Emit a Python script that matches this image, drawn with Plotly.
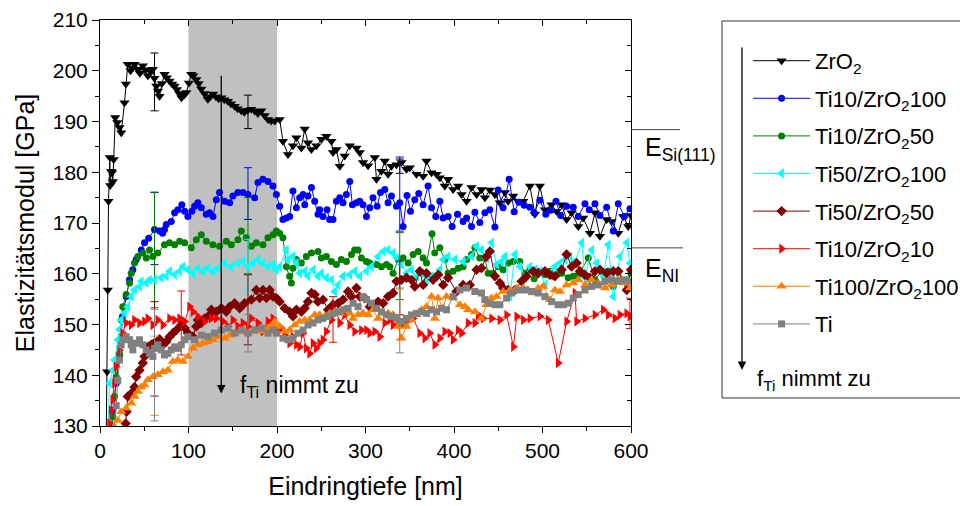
import plotly.graph_objects as go

FONT = "Liberation Sans, Arial, sans-serif"

# ---------------- data: (Eindringtiefe [nm], Elastizitätsmodul [GPa]) ----------------
ZRO2 = [(7,128),(8.1,140.7),(8.8,156.8),(9.6,174.3),(11.1,182.9),(11.5,177.4),(12.7,180.2),(13.5,179.9),(14.5,178.2),(15.5,182.5),
        (17.2,190.8),(19.5,189.8),(22,188.8),(24,187.8),(27.7,193.7),(29.2,197.4),(31.4,201.3),(34.5,200),(37,200.6),(39,201.3),
        (42.8,200.3),(45,199.5),(48.4,201),(51,200.2),(54.1,199),(57,199.8),(59.7,200.3),(61.5,198.5),(63.6,197),(65.5,196),
        (67.3,195),(70,197.5),(72.9,199.3),(75.5,198.6),(78.6,198),(81.5,197.4),(84.3,197),(87,196.3),(89.5,195.5),(92.1,194.7),
        (95,195.2),(97.5,195.7),(100.5,197.6),(103.1,199.3),(105.5,199),(108.8,198.3),(111.5,197.5),(114.5,196.4),(118,195.5),
        (121.9,194.4),(124.5,194.9),(127.6,195.4),(131,194.9),(134,194.5),(137.1,194.7),(140.5,194.3),(144.5,194),(148,193.5),
        (152.1,193),(155.5,192.5),(159.7,192.1),(163,191.8),(167,192.2),(171,192.4),(175,192),(178.5,191.6),(182.3,192.1),
        (186,191.2),(189.8,190.4),(193.5,190.1),(197.4,190.1),(203,190.4),(206.7,186.1),(212.4,183.5),(218,185.2),(221.9,186.8),
        (227.5,184.8),(231.3,188.5),(235,185.8),(238.9,184.5),(244.5,185.2),(250.2,186.5),(255.8,187.1),(261.5,186.1),(263.3,183.9),
        (267.1,184.5),(270.9,181.2),(276.5,183.2),(282.2,185.2),(289.8,184.8),(293.5,183.9),(297.2,181.9),(302.9,181.3),(310.5,182.9),
        (312.4,178.6),(318,180.2),(321.8,182.2),(325.5,179.6),(329.3,181.2),(335,181.5),(340.6,181.9),(346.3,180.6),(350,180.9),
        (357.6,179.6),(365.1,179.2),(368.9,182.2),(374.6,179.9),(380.2,179.6),(384,178.9),(389.6,177.3),(393.3,178.6),(399,176.6),
        (404.7,177.3),(408.5,175.6),(414.2,174.3),(419.8,177),(425.5,175.6),(431.1,176.6),(434.9,175),(440.5,176.5),(446.2,175.6),
        (451.8,174),(457.5,176),(461.2,174.3),(466.9,175.3),(472.5,174.3),(478.2,174.3),(485.8,177.3),(491.4,171.7),(497,177.3),
        (502.7,172.6),(510.3,173.6),(515.9,172.3),(521.6,173.6),(527.2,170.7),(532.9,172),(540.4,169.3),(546,171),(553.6,168),
        (559.3,172),(564.9,167.4),(572.5,170.7),(578.1,170.3),(585.6,168),(591.3,171.3),(596.9,169.3),(600,171.5)]

TI10_ZRO2_100 = [(12,128),(14.5,133.1),(18.3,138.4),(22,143.7),(24,147.6),(25.4,151.6),(29.6,155.5),(33.4,158.8),(37.1,160.8),(40.9,162.8),
        (46.6,164.7),(50.3,166.1),(55,167),(61.6,168.7),(67.3,168.4),(70.7,168),(72.9,168.7),(74.9,169.7),(80.5,170.3),(84.3,172),
        (88,172.6),(92.5,173.6),(95.6,172.3),(99.3,171.3),(103.8,172.3),(106.9,173.3),(110.6,174),(114.5,173),(120.1,171.7),
        (123.8,172),(127.6,171.3),(131.4,174.6),(135.1,176),(140.8,174.3),(146.5,174),(150.2,175.3),(155.8,176),(161.5,176),
        (167.2,175.6),(174.7,175),(178.5,178),(184.1,178.6),(189.8,178.2),(195.4,177.3),(199.3,175.6),(203,173.3),(206.7,170.7),
        (210.6,171),(214.3,171.3),(218,176.3),(221.9,173),(225.6,175),(229.4,175.6),(231.3,173.6),(235,175.3),(238.9,177),
        (242.6,174.3),(246.3,171.7),(248.2,172.6),(252,171.3),(256.5,172.6),(259.5,170.7),(263.3,170.7),(267.1,174.3),(270.9,175),
        (274.6,174),(278.4,175.6),(282.2,178.2),(285.2,173.6),(289.8,174),(293.5,174.3),(297.2,173.6),(301.1,171.3),(304.8,173),
        (308.5,175),(313.1,173.3),(316.9,176),(321.8,176.6),(325.5,174),(329.3,175.3),(335,173.3),(338.7,174),(342.5,169.3),
        (346.9,175.4),(350.8,172.3),(355.7,174.6),(360.2,175.8),(365.1,173.6),(370.7,177.3),(374.6,173),(379.4,171.3),(384,174.3),
        (387.7,171),(393.3,171.3),(397.9,169.3),(404,171.7),(410.3,170.3),(414.2,171),(419.8,169.3),(423.6,172.1),(429.2,170.1),
        (434.9,172),(440.5,172.6),(446.2,169.2),(449.9,176.5),(455.5,173),(462.3,178.6),(468,172.2),(473.3,174.1),(479.3,173.5),
        (485.8,173.1),(490.6,172),(497,174.5),(503.8,171.7),(509.5,172.5),(515.2,174.3),(520.5,171.5),(527.2,173.3),(534.7,173.1),
        (540.4,171.3),(548,173.8),(552.8,172.6),(559.3,173.8),(564.9,171.5),(572.5,173.1),(580,168.4),(585.6,173.8),(592.4,171.3),
        (598.8,172.8)]

TI10_ZRO2_50 = [(12.7,128),(14.5,131.8),(16.4,135.8),(18.3,139.7),(22,144.3),(24,150.9),(25.7,153.5),(29.6,155.9),(33.4,158.2),
        (35.3,160.1),(39,162.1),(42.8,163.4),(48.4,164.1),(52.3,163.1),(56,164.7),(59.7,163.4),(65.3,164.1),(72.9,165.7),(78.6,166.1),
        (84.3,165.7),(90,166.4),(95.6,166.1),(103.1,165.1),(108.8,166.7),(114.5,167.7),(120.1,166.4),(127.6,165.7),(135.1,165.4),
        (142.7,166.4),(148.4,165.7),(155.8,166.7),(159.7,168.4),(165.3,167.1),(171,165.4),(176.6,166.1),(184.1,165.7),(189.8,167.1),
        (195.4,167.7),(199.3,168.4),(203,168),(206.7,167.1),(210.6,161.4),(214.3,159.5),(216.2,158.2),(218,161.1),(221.9,162.8),
        (227.5,162.1),(233.1,163.4),(238.9,164.1),(246.3,164.4),(250.2,163.1),(255.8,163.4),(261.5,162.4),(267.1,161.8),(272.7,162.8),
        (278.4,162.4),(284.1,163.8),(287.8,164.7),(291.6,164.7),(295.4,163.1),(301.1,162.4),(304.8,162.1),(312.4,161.8),(318,161.4),
        (323.7,161.8),(327.5,161.4),(331.2,160.1),(336.9,162.8),(342.5,163.1),(348.2,162.1),(353.8,163.8),(359.5,164.4),(365.1,163.1),
        (368.9,162.1),(375.2,167.9),(378.2,164.1),(384,165.1),(389.6,162.8),(393.3,160.1),(399,160.5),(404.7,161.1),(410.3,161.4),
        (414.2,162.8),(419.8,163.8),(423.6,165.1),(429.2,163.1),(434.9,163.1),(438.6,160.1),(444.3,160.1),(449.9,161.4),(455.5,160.8),
        (461.2,162.1),(466.9,162.4),(474.4,162.4),(480.1,160.1),(485.8,160.8),(490.6,159),(495.2,160.5),(502.7,159.8),(508.4,160.5),
        (512.1,159.5),(517.8,160.1),(521.6,160.1),(529,159.2),(534.7,159.5),(540.4,159.8),(551.7,163.1),(559.3,158.8),(566.8,160.5),
        (574.3,160.5),(580,157.5),(585.6,160.5),(593.2,158.5),(600,160.1)]

TI50_ZRO2_100 = [(9,128),(10.7,138.4),(14.5,141),(16.4,143),(20.1,147),(22,149),(24,150.9),(27.7,152.2),(31.4,153.5),(35.3,155.5),
        (39,156.8),(44.7,157.5),(46.6,158.5),(52.3,158.2),(56,158.8),(61.6,158.8),(69.2,159.2),(74.9,159.5),(78.6,160.5),(84.3,159.8),
        (90,160.5),(93.7,161.4),(99.3,160.8),(105,160.1),(110.6,161.1),(116.3,160.5),(121.9,161.1),(127.6,160.5),(133.3,161.1),
        (140.8,162.1),(148.4,161.4),(155.8,162.1),(161.5,162.4),(167.2,161.4),(172.9,162.1),(178.5,162.8),(184.1,162.1),(189.8,161.4),
        (195.4,161.8),(199.3,160.8),(203,161.4),(210.6,164.7),(212.4,162.8),(218,163.4),(221.9,162.1),(225.6,160.1),(231.3,160.5),
        (235,159.5),(240.7,160.8),(246.3,159.5),(250.2,160.1),(255.8,159.2),(261.5,158.8),(265.2,156.5),(269,157.8),(274.6,159.5),
        (282.2,159.8),(287.8,160.5),(293.5,159.5),(301.1,160.5),(306.7,161.4),(314.2,163.4),(319.9,164.4),(325.5,164.7),(331.2,164.1),
        (335,163.1),(340.6,161.8),(346.3,160.1),(351.9,160.8),(357.6,159.5),(363.3,160.1),(368.9,158.8),(374.6,159.5),(380.2,159.5),
        (384,160.8),(387.7,162.8),(393.3,163.4),(401,162.8),(410.3,162.4),(419.8,163.4),(425.5,165.4),(431.1,164.7),(436.8,163.1),
        (442.5,166.1),(448.1,161.8),(453.8,162.4),(457.5,163.4),(463.2,155.5),(468.8,163.8),(474.4,161.4),(480.1,159.5),(485.8,161.4),
        (491.4,160.8),(497,160.5),(502.7,157.8),(508.4,160.1),(514,161.4),(519.7,162.1),(525.4,162.8),(531,163.4),(536.7,162.4),
        (544.3,166.1),(548,159.2),(555.6,164.7),(561.3,162.1),(568.8,159.5),(574.4,165.7),(580,155.5),(587.6,163.4),(595.2,166.1),
        (598.8,162.1)]

TI50_ZRO2_50 = [(22,126),(26,129),(29,130.5),(30,132.8),(31.4,135.8),(35.3,136.4),(39,137.7),(40.9,139.7),(44.7,141),(48.4,142.4),
        (50.3,143.7),(54.1,145.6),(57.9,146),(61.6,146.4),(67.3,147.1),(71.1,146),(74.9,146.6),(78.6,147.6),(82.4,148.3),(86.2,148.9),
        (91.8,149.9),(95.6,149.3),(99.3,148.3),(105,147.6),(108.8,149.6),(110.6,150.9),(114.5,150.3),(118.2,151.2),(123.8,151.9),
        (125.8,152.9),(131.4,152.5),(137.1,153.2),(142.7,152.5),(146.5,153.5),(152.1,154.2),(157.8,153.2),(163.4,154.2),(171,154.9),
        (176.6,156.8),(180.4,155.2),(184.1,156.8),(188,155.2),(191.7,156.8),(195.4,155.5),(199.3,155.2),(203,154.5),(208.7,153.2),
        (214.3,152.5),(218,151.6),(221.9,152.9),(227.5,152.5),(231.3,153.2),(235,154.5),(238.9,156.2),(242.6,155.9),(246.3,154.5),
        (252,154.9),(257.7,152.9),(263.3,153.9),(269,154.2),(274.6,154.9),(280.3,156.5),(284.1,155.5),(289.8,157.2),(293.5,155.5),
        (299.1,155.2),(304.8,153.5),(308.5,153.9),(314.2,154.5),(319.9,154.2),(325.5,155.5),(331.2,156.2),(335,158.5),(340.6,158.8),
        (346.3,159.2),(351.9,158.8),(355.7,157.5),(361.3,160.5),(365.1,157.8),(368.9,160.1),(376.4,158.8),(382.1,159.8),(387.7,157.8),
        (393.3,159.2),(402.8,156.5),(410.3,157.8),(417.9,157.8),(425.5,160.8),(431.1,161.1),(436.8,163.4),(440.5,164.4),(446.2,159.5),
        (451.8,158.2),(455.5,157.2),(461.2,156.8),(468.8,156.8),(476.4,158.5),(482,159.5),(489.6,160.5),(495.2,160.1),(502.7,160.5),
        (508.4,159.8),(514,159.5),(521.6,160.8),(527.2,163.8),(532.9,161.4),(538.6,162.1),(542.3,160.5),(548,159.8),(553.6,159.2),
        (559.3,160.5),(564.9,160.8),(572.5,160.1),(580,160.5),(585.6,160.5),(595.2,156.8),(600,160.8)]

TI10_ZRO2_10 = [(9,128),(10.7,130.5),(12.7,133.1),(14.5,135.1),(16.4,138.4),(18.3,141.7),(22,145),(25.7,148.3),(29.6,150.3),(35.3,149.9),
        (39,150.9),(44.7,150.3),(50.3,150.6),(54.1,151.2),(59.7,149.9),(65.3,150.9),(71.1,149.9),(78.6,151.2),(84.3,150.9),(90,151.2),
        (95.6,150.6),(101.2,153.5),(105,152.5),(110.6,151.6),(118.2,150.6),(125.8,151.2),(131.4,151.2),(138.9,150.6),(144.5,149.6),
        (150.2,150.9),(155.8,149.6),(161.5,150.3),(167.2,149.6),(171,151.2),(178.5,150.3),(184.1,148.6),(189.8,150.6),(195.4,151.2),
        (199.3,148.9),(204.9,149.3),(208.7,147.9),(214.3,146.3),(218,147.6),(221.9,146),(225.6,145.6),(229.4,148.3),(233.1,145.3),
        (236.9,144.3),(240.7,146.3),(244.4,145.3),(248.2,146.3),(252,147),(255.7,148.6),(261.5,150.9),(267.1,152.5),(270.9,150.3),
        (276.5,151.9),(282.2,149.9),(287.8,148.6),(295.4,148.9),(301.1,148.9),(304.8,148.3),(310.5,148.6),(316.1,147.6),(321.8,150.3),
        (327.5,150.9),(331.2,149.9),(336.9,150.6),(342.5,150.3),(348.2,150.9),(353.8,151.2),(361.3,148.3),(367,147.3),(372.6,148.3),
        (378.3,146),(384,147.3),(389.6,148.6),(395.3,148.3),(399,147),(404.7,148.9),(408.5,148.3),(416,150.3),(423.6,150.3),
        (427.4,151.9),(433,151.2),(442.5,151.2),(451.9,150.9),(459.5,151.9),(467.1,145.6),(470.9,151.6),(478.4,150.9),(485.8,151.2),
        (497.1,151.6),(506.5,150.9),(517.8,142.4),(527.3,150.6),(536.7,156.2),(538.6,150.6),(548,151.2),(559.3,151.9),(568.7,152.9),
        (574.4,151.9),(581.9,151.2),(587.6,151.9),(595.1,152.2),(598.8,151.6)]

TI100_ZRO2_100 = [(14,128),(16.4,129.8),(20.1,131.1),(24,132.8),(29.6,133.5),(35.3,134.5),(39,135.8),(42.8,136.8),(46.6,137.7),
        (50.3,138.1),(54.1,139.1),(59.7,139.7),(65.3,140.1),(71.1,140.7),(76.7,141),(82.4,142.7),(88,143),(93.7,142.7),(99.3,143.7),
        (105,145.3),(110.6,146),(116.3,146.3),(121.9,146.6),(127.6,147),(133.3,147.6),(140.8,147.3),(146.5,147.9),(152.1,148.3),
        (159.7,148.6),(167.2,148.3),(174.7,148.9),(182.3,148.6),(189.8,149.3),(195.4,149.9),(197.4,150.6),(203,149.6),(208.7,148.6),
        (214.3,148.9),(220,149.9),(225.6,150.6),(231.3,150.9),(236.9,150.9),(242.6,151.9),(248.2,151.9),(253.9,151.6),(259.5,152.2),
        (265.2,152.5),(270.9,152.2),(276.5,152.9),(282.2,152.2),(285.9,151.2),(291.6,151.9),(297.2,152.2),(302.9,151.9),(308.5,152.9),
        (314.2,151.2),(319.9,152.2),(325.5,152.2),(331.2,151.9),(336.8,149.6),(340.6,147.3),(346.3,149.6),(352,150.9),(357.6,151.9),
        (363.3,152.9),(368.9,153.5),(374.6,155.5),(378.3,151.2),(382,155.2),(387.7,153.2),(391.5,155.5),(399,155.2),(406.6,153.9),
        (412.2,153.5),(416,152.9),(423.6,152.5),(431.1,151.2),(436.8,153.9),(442.4,155.2),(448.1,155.5),(455.5,156.5),(463.1,156.8),
        (470.7,157.2),(478.2,157.2),(483.8,156.8),(489.5,156.2),(495.1,157.2),(500.8,157.5),(508.4,154.9),(514,156.8),(519.7,156.5),
        (527.2,157.8),(534.7,158.2),(540.4,158.8),(548,157.8),(555.5,158.8),(563,158.2),(570.6,157.2),(578.1,157.8),(585.6,158.8),
        (593.2,158.2),(598.8,157.2)]

TI = [(15,128),(18.3,134),(20.1,139),(22,143),(24,146),(25.7,147),(29.6,147.6),(33.4,147),(35.3,146),(37.1,145),(40.9,146.3),
        (44.7,147),(48.4,146),(52.3,145),(56,144.3),(59.7,143.7),(61.6,145.3),(65.3,146),(69.2,145),(72.9,144),(76.7,144.3),(80.5,145),
        (84.3,145.6),(88,145.3),(91.8,146),(95.6,147),(99.3,147.6),(106.9,147),(114.5,147.9),(121.9,147.6),(129.5,148.3),(137.1,148.9),
        (144.5,149.3),(152.1,148.3),(159.7,148.9),(167.2,148.3),(174.7,148.9),(182.3,149.3),(189.8,148.3),(195.4,148.9),(199.3,148.3),
        (206.7,147.3),(212.4,147),(218,147.3),(223.7,148.3),(229.4,148.9),(235,149.9),(240.7,150.3),(246.3,150.9),(252,151.2),
        (257.7,151.6),(263.3,152.2),(269,152.5),(274.6,152.9),(280.3,153.2),(285.9,154.2),(291.6,153.5),(297.2,155.5),(301.1,154.9),
        (306.7,154.2),(312.4,153.2),(318,152.5),(323.7,151.9),(329.3,151.6),(335,151.2),(340.6,150.6),(346.3,151.2),(352,151.9),
        (357.6,152.2),(363.3,152.5),(368.9,152.2),(374.6,152.9),(380.2,152.5),(385.9,153.2),(391.5,152.9),(399,155.5),(406.6,156.8),
        (414.1,157.2),(423.6,156.5),(431.1,156.2),(434.9,154.9),(440.5,154.2),(446.2,153.9),(451.8,153.9),(459.4,155.2),(465,156.2),
        (472.6,156.8),(480.1,156.8),(487.7,156.5),(495.2,156.2),(502.7,155.5),(510.3,154.5),(517.8,153.9),(523.5,153.9),(529.1,154.2),
        (534.7,155.2),(540.4,155.9),(548,156.8),(555.5,157.5),(563,157.8),(570.6,158.5),(578.1,158.8),(585.6,158.5),(593.2,158.8),
        (598.8,158.5)]

# error bars: (depth, mean, +/- error)
ERR_ZRO2 = [(61.6,197.8,5.7),(167.2,191.9,3.3),(338.7,181.2,1.4)]
ERR_TI10_ZRO2_100 = [(61.6,168.9,7.1),(167.2,175.8,5.1),(338.7,175.7,7.3)]
ERR_TI10_ZRO2_50 = [(61.6,164.7,11.4),(167.2,167.5,7.5),(338.7,161.5,6.6)]
ERR_TI50_ZRO2_100 = [(167.2,161.8,5.0)]
ERR_TI50_ZRO2_50 = [(61.6,145.2,9.3),(167.2,152.9,6.9),(338.7,157.2,5.3)]
ERR_TI10_ZRO2_10 = [(91.8,150.3,6.3),(263.3,151.0,4.5),(598.8,152.2,3.0)]
ERR_TI100_ZRO2_100 = [(61.6,139.9,7.8),(338.7,152.0,5.0)]
ERR_TI = [(61.6,142.0,11.0),(167.2,148.3,3.7),(338.7,150.8,6.4)]

E_SI111 = 188.4
E_NI = 165.1

SERIES = [
    ("ZrO<sub>2</sub>", ZRO2, ERR_ZRO2, "#000000", "triangle-down", 9),
    ("Ti10/ZrO<sub>2</sub>100", TI10_ZRO2_100, ERR_TI10_ZRO2_100, "#0000ff", "circle", 7),
    ("Ti10/ZrO<sub>2</sub>50", TI10_ZRO2_50, ERR_TI10_ZRO2_50, "#008000", "circle", 7),
    ("Ti50/ZrO<sub>2</sub>100", TI50_ZRO2_100, ERR_TI50_ZRO2_100, "#00ffff", "triangle-left", 9),
    ("Ti50/ZrO<sub>2</sub>50", TI50_ZRO2_50, ERR_TI50_ZRO2_50, "#800000", "diamond", 8),
    ("Ti10/ZrO<sub>2</sub>10", TI10_ZRO2_10, ERR_TI10_ZRO2_10, "#ff0000", "triangle-right", 9),
    ("Ti100/ZrO<sub>2</sub>100", TI100_ZRO2_100, ERR_TI100_ZRO2_100, "#ff8000", "triangle-up", 9),
    ("Ti", TI, ERR_TI, "#808080", "square", 7),
]

fig = go.Figure()
for i, (name, data, err, color, symbol, size) in enumerate(SERIES):
    fig.add_trace(go.Scatter(
        x=[p[0] for p in data], y=[p[1] for p in data],
        mode="lines+markers", name=name, legendgroup=f"g{i}",
        line=dict(color=color, width=1),
        marker=dict(symbol=symbol, size=size, color=color, line=dict(width=0)),
    ))
    fig.add_trace(go.Scatter(
        x=[e[0] for e in err], y=[e[1] for e in err],
        mode="markers", showlegend=False, legendgroup=f"g{i}", hoverinfo="skip",
        marker=dict(size=1, color=color, opacity=0),
        error_y=dict(type="data", array=[e[2] for e in err], color=color, thickness=1, width=4),
    ))

# mirror axes (inward ticks on top and right)
fig.add_trace(go.Scatter(x=[None], y=[None], xaxis="x2", yaxis="y2", showlegend=False, hoverinfo="skip"))

axis_common = dict(showline=True, linecolor="black", linewidth=1, showgrid=False, zeroline=False,
                   tickcolor="black", tickwidth=1, mirror=False)

fig.update_layout(
    width=960, height=506,
    margin=dict(l=100, r=329, t=20, b=80, autoexpand=False),
    paper_bgcolor="white", plot_bgcolor="white",
    font=dict(family=FONT, color="black"),
    xaxis=dict(range=[0, 600], dtick=100, ticks="outside", ticklen=6,
               minor=dict(ticks="outside", dtick=50, ticklen=4, tickcolor="black"),
               tickfont=dict(size=21), title=dict(text="Eindringtiefe [nm]", font=dict(size=25), standoff=16),
               **axis_common),
    yaxis=dict(range=[130, 210], dtick=10, ticks="outside", ticklen=7,
               minor=dict(ticks="outside", dtick=5, ticklen=4, tickcolor="black"),
               tickfont=dict(size=21), title=dict(text="Elastizitätsmodul [GPa]", font=dict(size=25), standoff=11),
               **axis_common),
    xaxis2=dict(overlaying="x", side="top", range=[0, 600], dtick=100, ticks="inside", ticklen=6,
                minor=dict(ticks="inside", dtick=50, ticklen=4, tickcolor="black"),
                showticklabels=False, anchor="y2", **axis_common),
    yaxis2=dict(overlaying="y", side="right", range=[130, 210], dtick=10, ticks="inside", ticklen=6,
                minor=dict(ticks="inside", dtick=5, ticklen=4, tickcolor="black"),
                showticklabels=False, anchor="x2", **axis_common),
    legend=dict(x=1.2205, y=0.951, xanchor="left", yanchor="top",
                bgcolor="rgba(0,0,0,0)", borderwidth=0,
                font=dict(size=22, family=FONT, color="black"),
                tracegroupgap=6, itemwidth=57, traceorder="grouped"),
    showlegend=True,
)

# shaded depth range
fig.add_shape(type="rect", xref="x", yref="y", x0=100, x1=200, y0=130, y1=210,
              fillcolor="#c0c0c0", line=dict(width=0), layer="below")

# reference moduli lines outside the plot
fig.add_shape(type="line", xref="paper", yref="y", x0=1.0, x1=1.092, y0=E_SI111, y1=E_SI111,
              line=dict(color="#404040", width=1))
fig.add_shape(type="line", xref="paper", yref="y", x0=1.0, x1=1.098, y0=E_NI, y1=E_NI,
              line=dict(color="#404040", width=1))
fig.add_annotation(xref="paper", yref="y", x=1.022, y=184.6, xanchor="left", yanchor="middle",
                   text="E<sub>Si(111)</sub>", showarrow=False, font=dict(size=25))
fig.add_annotation(xref="paper", yref="y", x=1.022, y=160.8, xanchor="left", yanchor="middle",
                   text="E<sub>NI</sub>", showarrow=False, font=dict(size=25))

# arrow in plot
fig.add_annotation(xref="x", yref="y", x=137, y=136.4, axref="x", ayref="y", ax=137, ay=199.3,
                   text="", showarrow=True, arrowhead=2, arrowsize=1.3, arrowwidth=1.3, arrowcolor="black")
fig.add_annotation(xref="x", yref="y", x=156, y=137.8, xanchor="left", yanchor="middle",
                   text="f<sub>Ti</sub> nimmt zu", showarrow=False, font=dict(size=23))

# legend frame, arrow and caption
fig.add_shape(type="rect", xref="paper", yref="paper", x0=1.1714, x1=1.64, y0=0.069, y1=0.9975,
              line=dict(color="#303030", width=1), fillcolor="rgba(0,0,0,0)")
fig.add_annotation(xref="paper", yref="paper", x=1.209, y=0.138, ax=0, ay=-324,
                   text="", showarrow=True, arrowhead=2, arrowsize=1.3, arrowwidth=1.3, arrowcolor="black")
fig.add_annotation(xref="paper", yref="paper", x=1.234, y=0.113, xanchor="left", yanchor="middle",
                   text="f<sub>Ti</sub> nimmt zu", showarrow=False, font=dict(size=22))

fig.write_html("out.html")
